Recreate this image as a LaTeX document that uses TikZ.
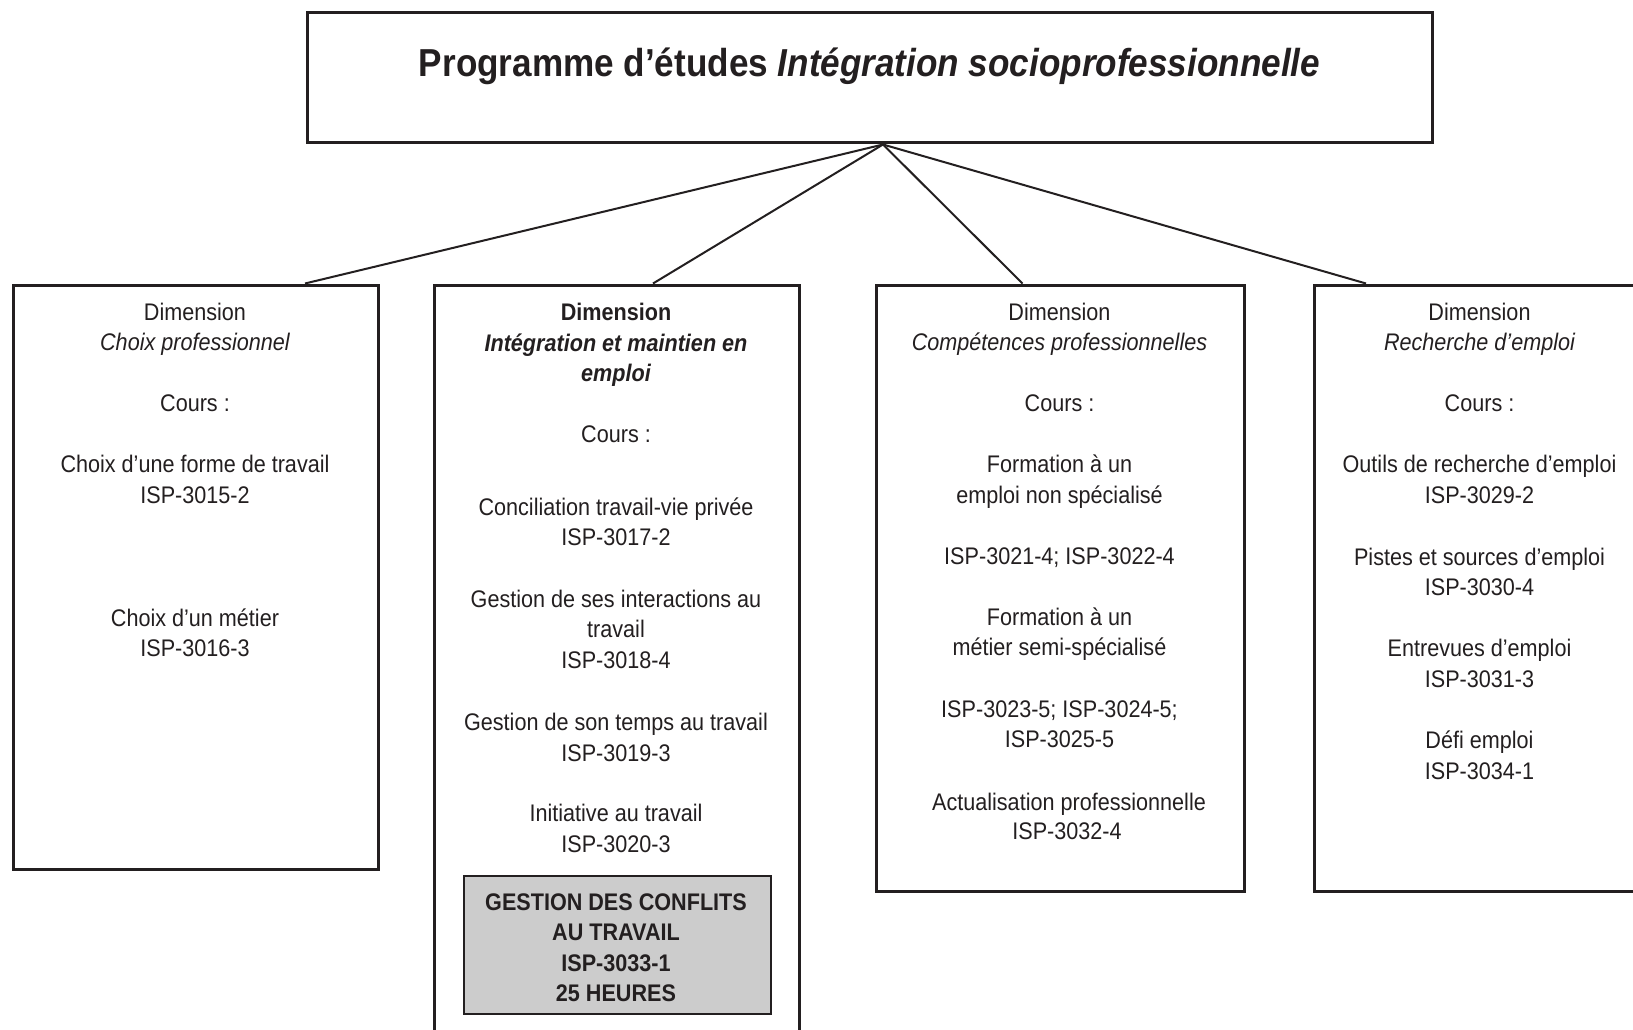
\documentclass[tikz,border=0pt]{standalone}
\usepackage{fontspec}
\setmainfont{Liberation Sans}[FakeStretch=0.9]
\definecolor{ink}{HTML}{231F20}
\definecolor{shade}{HTML}{CCCCCC}
\begin{document}
\begin{tikzpicture}[x=1pt,y=-1pt,
  frame/.style={draw=ink, line width=3pt, rectangle, inner sep=0pt, anchor=north west},
  link/.style={draw=ink, line width=2pt},
  txt/.style={text=ink, inner sep=0pt, anchor=base, font=\fontsize{24}{30}\selectfont},
  ttl/.style={text=ink, inner sep=0pt, anchor=base, font=\fontsize{39}{45}\selectfont\bfseries},
]
\useasboundingbox (0,0) rectangle (1633,1030);
\clip (0,0) rectangle (1633,1030);
\fill[white] (0,0) rectangle (1633,1030);

% programme box and its title
\node[frame, minimum width=1125pt, minimum height=130pt] (prog) at (306,11.5) {};
\node[ttl] (title) at (869.5,76.5) {Programme d’études \textit{Intégration socioprofessionnelle}};

% dimension boxes
\node[frame, minimum width=365pt, minimum height=584pt] (dim1) at (12,283.5) {};
\node[frame, minimum width=365pt, minimum height=800pt] (dim2) at (433,283.5) {};
\node[frame, minimum width=368pt, minimum height=606.5pt] (dim3) at (874.5,283.5) {};
\node[frame, minimum width=366pt, minimum height=606.5pt] (dim4) at (1312.5,283.5) {};

% new course, shaded
\node[draw=ink, line width=2pt, fill=shade, rectangle, inner sep=0pt, anchor=north west,
      minimum width=307pt, minimum height=137.5pt] (conf) at (462.5,875) {};

% connectors from the programme to each dimension
\coordinate (apex) at ([xshift=13pt]prog.south);
\draw[link] (apex) -- ([xshift=109pt]dim1.north);
\draw[link] (apex) -- ([xshift=36pt]dim2.north);
\draw[link] (apex) -- ([xshift=-37.5pt]dim3.north);
\draw[link] (apex) -- ([xshift=53.5pt]dim4.north west);

% Choix professionnel
\foreach \yy/\ty [count=\k] in {
  320/Dimension,
  350/{\itshape Choix professionnel},
  411.5/{Cours :},
  472.5/{Choix d’une forme de travail},
  503/{ISP-3015-2},
  626/{Choix d’un métier},
  656.5/{ISP-3016-3}}
  \node[txt] (a\k) at (195,\yy) {\ty};

% Intégration et maintien en emploi
\foreach \yy/\ty [count=\k] in {
  320/{\bfseries Dimension},
  351/{\bfseries\itshape Intégration et maintien en},
  381.5/{\bfseries\itshape emploi},
  442.5/{Cours :},
  515/{Conciliation travail-vie privée},
  545.5/{ISP-3017-2},
  607/{Gestion de ses interactions au},
  637.5/{travail},
  668/{ISP-3018-4},
  730.5/{Gestion de son temps au travail},
  761/{ISP-3019-3},
  821.5/{Initiative au travail},
  852/{ISP-3020-3}}
  \node[txt] (b\k) at (616,\yy) {\ty};

\foreach \yy/\ty [count=\k] in {
  910.5/{GESTION DES CONFLITS},
  940.5/{AU TRAVAIL},
  971.5/{ISP-3033-1},
  1001.5/{25 HEURES}}
  \node[txt, font=\fontsize{24}{30}\selectfont\bfseries] (g\k) at (616,\yy) {\ty};

% Compétences professionnelles
\foreach \yy/\ty [count=\k] in {
  320/Dimension,
  350/{\itshape Compétences professionnelles},
  411.5/{Cours :},
  472.5/{Formation à un},
  503/{emploi non spécialisé},
  564.5/{ISP-3021-4; ISP-3022-4},
  625/{Formation à un},
  655.5/{métier semi-spécialisé},
  717.5/{ISP-3023-5; ISP-3024-5;},
  747.5/{ISP-3025-5}}
  \node[txt] (c\k) at (1059.5,\yy) {\ty};
\node[txt] (c11) at (1069,810) {Actualisation professionnelle};
\node[txt] (c12) at (1067,839.5) {ISP-3032-4};

% Recherche d'emploi
\foreach \yy/\ty [count=\k] in {
  320/Dimension,
  350/{\itshape Recherche d’emploi},
  411.5/{Cours :},
  472.5/{Outils de recherche d’emploi},
  503/{ISP-3029-2},
  565/{Pistes et sources d’emploi},
  595.5/{ISP-3030-4},
  656.5/{Entrevues d’emploi},
  687/{ISP-3031-3},
  748/{Défi emploi},
  779/{ISP-3034-1}}
  \node[txt] (d\k) at (1479.5,\yy) {\ty};
\end{tikzpicture}
\end{document}
